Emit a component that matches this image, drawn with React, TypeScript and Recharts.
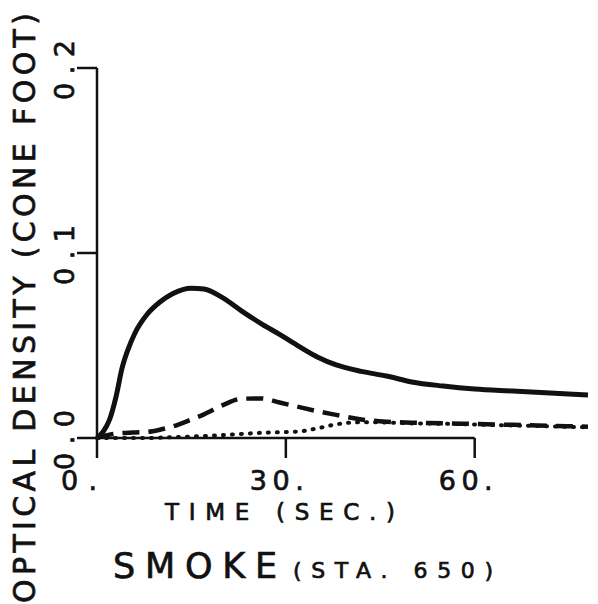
import React from 'react';
import { LineChart, Line, XAxis, YAxis, ReferenceLine } from 'recharts';

// time (sec.) samples
const times = [0, 1, 2, 3, 4, 5, 6, 8, 10, 12, 15, 17, 20, 23, 26, 29, 32, 35, 38, 42, 46, 50, 55, 60, 66, 72, 78];

// optical density (cone foot)
const solidDensity = [0, 0.0035, 0.01, 0.022, 0.038, 0.0485, 0.0565, 0.067, 0.0735, 0.078, 0.081, 0.0805, 0.0757, 0.0686, 0.062, 0.056, 0.0497, 0.0438, 0.0395, 0.036, 0.0335, 0.0303, 0.0281, 0.0265, 0.0254, 0.0243, 0.0232];
const dashedDensity = [0, 0.001, 0.0018, 0.0024, 0.0027, 0.0028, 0.003, 0.0033, 0.0045, 0.0062, 0.01, 0.0128, 0.0178, 0.0212, 0.0214, 0.0192, 0.0168, 0.0145, 0.0125, 0.01, 0.0088, 0.0083, 0.008, 0.0076, 0.0071, 0.0066, 0.0061];
const dottedDensity = [0, 0, 0, 0, 0, 0, 0, 0, 0.0002, 0.0004, 0.0008, 0.0011, 0.0016, 0.0022, 0.0028, 0.0031, 0.0035, 0.0052, 0.0074, 0.0085, 0.0084, 0.0079, 0.0077, 0.0073, 0.0068, 0.0063, 0.0058];

const xTicks = [0, 30, 60];
const yTicks = [0, 0.1, 0.2];

const data = times.map((t, i) => ({
  t,
  solid: solidDensity[i],
  dashed: dashedDensity[i],
  dotted: dottedDensity[i],
}));

const FONT = '"DejaVu Sans", sans-serif';
const INK = '#111';
const textInk = { fill: INK, stroke: INK, strokeWidth: 0.7 };

const XTick = (props: any) => {
  const { x, y, payload } = props;
  const label = `${payload.value}.`;
  return (
    <text x={x - 36} y={y + 30} fontFamily={FONT} fontSize={27} {...textInk}
      textLength={label.length * 18} lengthAdjust="spacing">
      {label}
    </text>
  );
};

const YTick = (props: any) => {
  const { y, payload } = props;
  const label = payload.value.toFixed(1);
  const bx = 74;
  const by = y + 32;
  return (
    <text x={bx} y={by} transform={`rotate(-90 ${bx} ${by})`} fontFamily={FONT} fontSize={27}
      {...textInk} textLength={60} lengthAdjust="spacing">
      {label}
    </text>
  );
};

export default function App() {
  return (
    <div style={{ position: 'absolute', left: 0, top: 0, width: 598, height: 604, background: '#fff' }}>
      <LineChart width={598} height={604} data={data} margin={{ top: 68, right: 10, bottom: 136, left: 0 }}>
        <XAxis
          dataKey="t"
          type="number"
          domain={[0, 78]}
          ticks={xTicks}
          height={30}
          tickSize={20}
          axisLine={false}
          tickLine={{ stroke: INK, strokeWidth: 2.5 }}
          tick={<XTick />}
        />
        <YAxis
          type="number"
          domain={[0, 0.2]}
          ticks={yTicks}
          width={97}
          tickSize={20}
          axisLine={{ stroke: INK, strokeWidth: 2.5 }}
          tickLine={{ stroke: INK, strokeWidth: 2.5 }}
          tick={<YTick />}
        />
        <ReferenceLine segment={[{ x: 0, y: 0 }, { x: 60, y: 0 }]} stroke={INK} strokeWidth={2.5} ifOverflow="visible" />
        <Line type="monotone" dataKey="dotted" stroke={INK} strokeWidth={4} strokeDasharray="1 8" strokeLinecap="round" dot={false} activeDot={false} isAnimationActive={false} />
        <Line type="monotone" dataKey="dashed" stroke={INK} strokeWidth={4.5} strokeDasharray="17 9" dot={false} activeDot={false} isAnimationActive={false} />
        <Line type="monotone" dataKey="solid" stroke={INK} strokeWidth={5} dot={false} activeDot={false} isAnimationActive={false} />
      </LineChart>
      <svg width={598} height={604} style={{ position: 'absolute', left: 0, top: 0, pointerEvents: 'none' }}>
        <text x={35} y={603} transform="rotate(-90 35 603)" fontFamily={FONT} fontSize={30} {...textInk}
          textLength={590} lengthAdjust="spacing">
          OPTICAL DENSITY (CONE FOOT)
        </text>
        <text x={165} y={520} fontFamily={FONT} fontSize={23} {...textInk} textLength={230} lengthAdjust="spacing">
          TIME (SEC.)
        </text>
        <text x={113} y={578} fontFamily={FONT} fontSize={35} {...textInk} textLength={164} lengthAdjust="spacing">
          SMOKE
        </text>
        <text x={293} y={578} fontFamily={FONT} fontSize={22} {...textInk} textLength={200} lengthAdjust="spacing">
          (STA. 650)
        </text>
      </svg>
    </div>
  );
}
